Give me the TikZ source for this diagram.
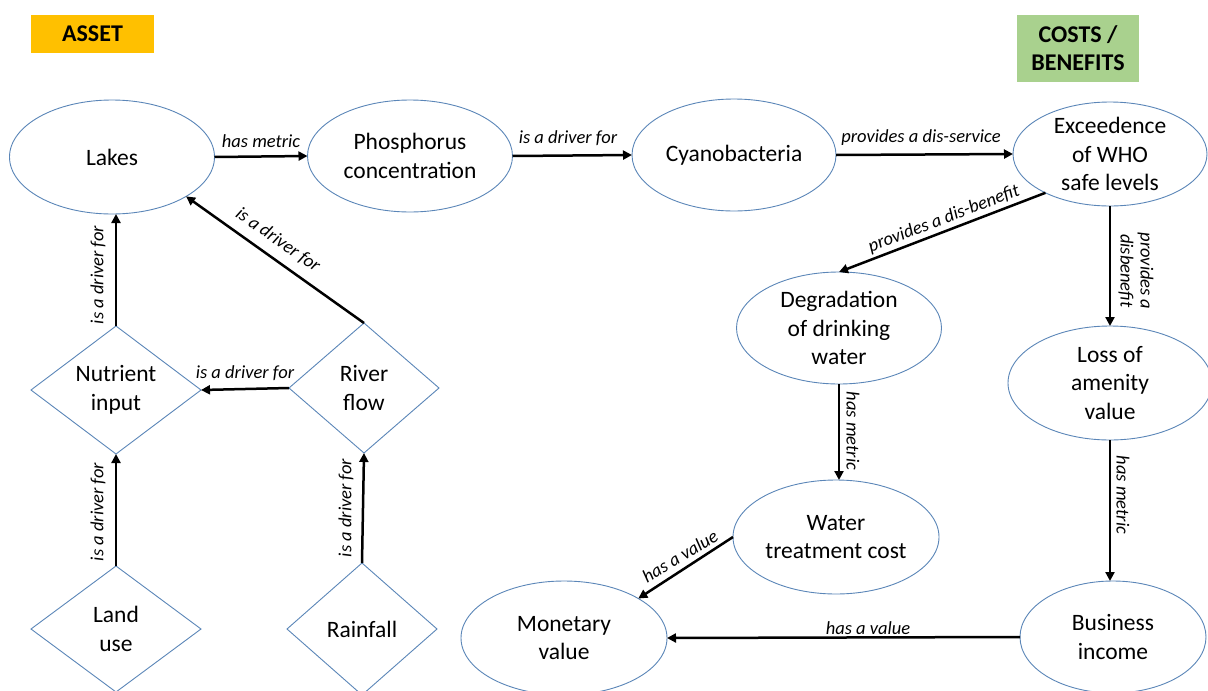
\documentclass[tikz,border=0pt]{standalone}
\usepackage{fontspec}
\setmainfont{Carlito}
\usetikzlibrary{shapes.geometric,arrows.meta}
\definecolor{edgeblue}{HTML}{5B86B8}
\definecolor{assetgold}{HTML}{FFC000}
\definecolor{costgreen}{HTML}{A9D18E}
\tikzset{
  x=1pt, y=-1pt,
  ell/.style={ellipse, draw=edgeblue, line width=0.9pt, fill=white, inner sep=0pt, outer sep=0pt},
  dia/.style={diamond, draw=edgeblue, line width=0.9pt, fill=white, inner sep=0pt, outer sep=0pt},
  txt/.style={align=center, font=\fontsize{23.5}{28.5}\selectfont},
  rel/.style={font=\fontsize{18.5}{20}\selectfont\itshape, align=center, inner sep=1pt},
  arr/.style={line width=2.5pt, -{Triangle[length=9pt,width=9pt]}},
  tag/.style={font=\fontsize{24}{28}\selectfont\bfseries, align=center, inner sep=0pt}
}
\begin{document}
\begin{tikzpicture}
\useasboundingbox (0,0) rectangle (1208,691);

% category tags
\node[tag, fill=assetgold, minimum width=123pt, minimum height=38pt] (asset) at (92.5,34) {ASSET};
\node[tag, fill=costgreen, minimum width=122pt, minimum height=67pt] (costs) at (1078,48.5) {COSTS /\\BENEFITS};

% ellipses
\node[ell, minimum width=205pt, minimum height=114pt] (lakes) at (112,157) {};
\node[txt] (lakes-t) at (lakes) {Lakes};
\node[ell, minimum width=205pt, minimum height=112pt] (phos) at (410,156) {};
\node[txt] (phos-t) at (phos) {Phosphorus\\concentration};
\node[ell, minimum width=204pt, minimum height=112pt] (cya) at (734,155) {};
\node[txt] (cya-t) at (cya) {Cyanobacteria};
\node[ell, minimum width=194pt, minimum height=104pt] (exc) at (1110,154) {};
\node[txt] (exc-t) at (exc) {Exceedence\\of WHO\\safe levels};
\node[ell, minimum width=205pt, minimum height=112pt] (deg) at (839,328) {};
\node[txt] (deg-t) at (deg) {Degradation\\of drinking\\water};
\node[ell, minimum width=204pt, minimum height=114pt] (loss) at (1110,383) {};
\node[txt] (loss-t) at (loss) {Loss of\\amenity\\value};
\node[ell, minimum width=206pt, minimum height=114pt] (water) at (836,537) {};
\node[txt] (water-t) at (water) {Water\\treatment cost};
\node[ell, minimum width=206pt, minimum height=114pt] (mon) at (564,638) {};
\node[txt] (mon-t) at (mon) {Monetary\\value};
\node[ell, minimum width=186pt, minimum height=112pt] (bus) at (1113,637) {};
\node[txt] (bus-t) at (bus) {Business\\income};

% diamonds
\node[dia, minimum width=170pt, minimum height=128pt, aspect=1.33] (nut) at (116,390) {};
\node[txt] (nut-t) at (nut) {Nutrient\\input};
\node[dia, minimum width=150pt, minimum height=130pt, aspect=1.15] (river) at (364,388) {};
\node[txt] (river-t) at (river) {River\\flow};
\node[dia, minimum width=170pt, minimum height=126pt, aspect=1.35] (land) at (116,629) {};
\node[txt] (land-t) at (land) {Land\\use};
\node[dia, minimum width=150pt, minimum height=132pt, aspect=1.14] (rain) at (362,629) {};
\node[txt] (rain-t) at (rain) {Rainfall};

% connectors
\draw[arr] (lakes.east) -- (phos.west);
\draw[arr] (phos.east) -- (cya.west);
\draw[arr] (cya.east) -- (exc.west);
\draw[arr] (exc.211) -- (deg.north);
\draw[arr] (exc.south) -- (exc.south |- loss.north);
\draw[arr] (deg.south) -- (deg.south |- water.north);
\draw[arr] (loss.south) -- (loss.south |- bus.north);
\draw[arr] (water.west) -- (mon.28);
\draw[arr] (bus.west) -- (mon.east);
\draw[arr] (nut.north) -- (nut.north |- lakes.south);
\draw[arr] (river.north) -- (lakes.332);
\draw[arr] (river.west) -- (nut.east);
\draw[arr] (land.north) -- (nut.south);
\draw[arr] (rain.north) -- (river.south);

% relation labels
\node[rel] (l1) at (261,141) {has metric};
\node[rel] (l2) at (568,138) {is a driver for};
\node[rel] (l3) at (921,138) {provides a dis-service};
\node[rel, rotate=21] (l4) at (944,219) {provides a dis-benefit};
\node[rel, rotate=-90] (l5) at (1136,271) {provides a\\disbenefit};
\node[rel, rotate=-90] (l6) at (853,431) {has metric};
\node[rel, rotate=-90] (l7) at (1123,495) {has metric};
\node[rel, rotate=31] (l8) at (680,556) {has a value};
\node[rel] (l9) at (868,628) {has a value};
\node[rel, rotate=90] (l10) at (98,275) {is a driver for};
\node[rel, rotate=-35] (l11) at (278,240) {is a driver for};
\node[rel] (l12) at (245,373) {is a driver for};
\node[rel, rotate=90] (l13) at (98,512) {is a driver for};
\node[rel, rotate=90] (l14) at (346,508) {is a driver for};
\end{tikzpicture}
\end{document}
